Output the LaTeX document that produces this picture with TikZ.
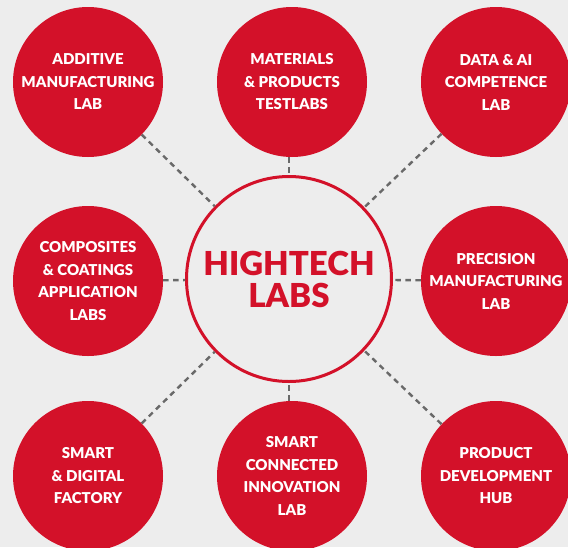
\documentclass[tikz,border=0pt]{standalone}
\usepackage{fontspec}
\setmainfont{Lato}[BoldFont={Lato Black}]
\usepackage{tikz}
\usetikzlibrary{positioning}
\usepackage{xcolor}

\definecolor{labred}{RGB}{211,17,41}
\definecolor{labbg}{RGB}{237,237,237}
\definecolor{labgray}{RGB}{105,105,105}

\tikzset{
    lab/.style={circle, fill=labred, minimum size=150pt, inner sep=0pt, align=center,
        text=white, font=\fontsize{15}{22.5}\selectfont\bfseries},
    hub/.style={circle, draw=labred, line width=3pt, minimum size=205pt, inner sep=0pt,
        align=center, text=labred, font=\fontsize{33}{32}\selectfont\bfseries},
    link/.style={draw=labgray, line width=2.4pt, dash pattern=on 5.5pt off 4.5pt}
}

\begin{document}
\begin{tikzpicture}[x=1pt, y=-1pt]
            \fill[labbg] (0,0) rectangle (568,547);
            \useasboundingbox (0,0) rectangle (568,547);

            \node[hub] (hub) at (289,279) {HIGHTECH\\LABS};

            \node[lab] (additive) at (88,82) {ADDITIVE\\MANUFACTURING\\LAB};
            \node[lab] (materials) at (292,82) {MATERIALS\\\& PRODUCTS\\TESTLABS};
            \node[lab] (data) at (496,82) {DATA \& AI\\COMPETENCE\\LAB};
            \node[lab] (composites) at (88,281) {COMPOSITES\\\& COATINGS\\APPLICATION\\LABS};
            \node[lab] (precision) at (496,281) {PRECISION\\MANUFACTURING\\LAB};
            \node[lab] (factory) at (88,476) {SMART\\\& DIGITAL\\FACTORY};
            \node[lab] (innovation) at (292,476) {SMART\\CONNECTED\\INNOVATION\\LAB};
            \node[lab] (product) at (496,476) {PRODUCT\\DEVELOPMENT\\HUB};

            \draw[link] (additive) -- (hub);
            \draw[link] (materials.south -| hub.north) -- (hub.north);
            \draw[link] (data) -- (hub);
            \draw[link] (composites) -- (hub);
            \draw[link] (precision) -- (hub);
            \draw[link] (factory) -- (hub);
            \draw[link] (innovation.north -| hub.south) -- (hub.south);
            \draw[link] (product) -- (hub);
        \end{tikzpicture}
\end{document}
